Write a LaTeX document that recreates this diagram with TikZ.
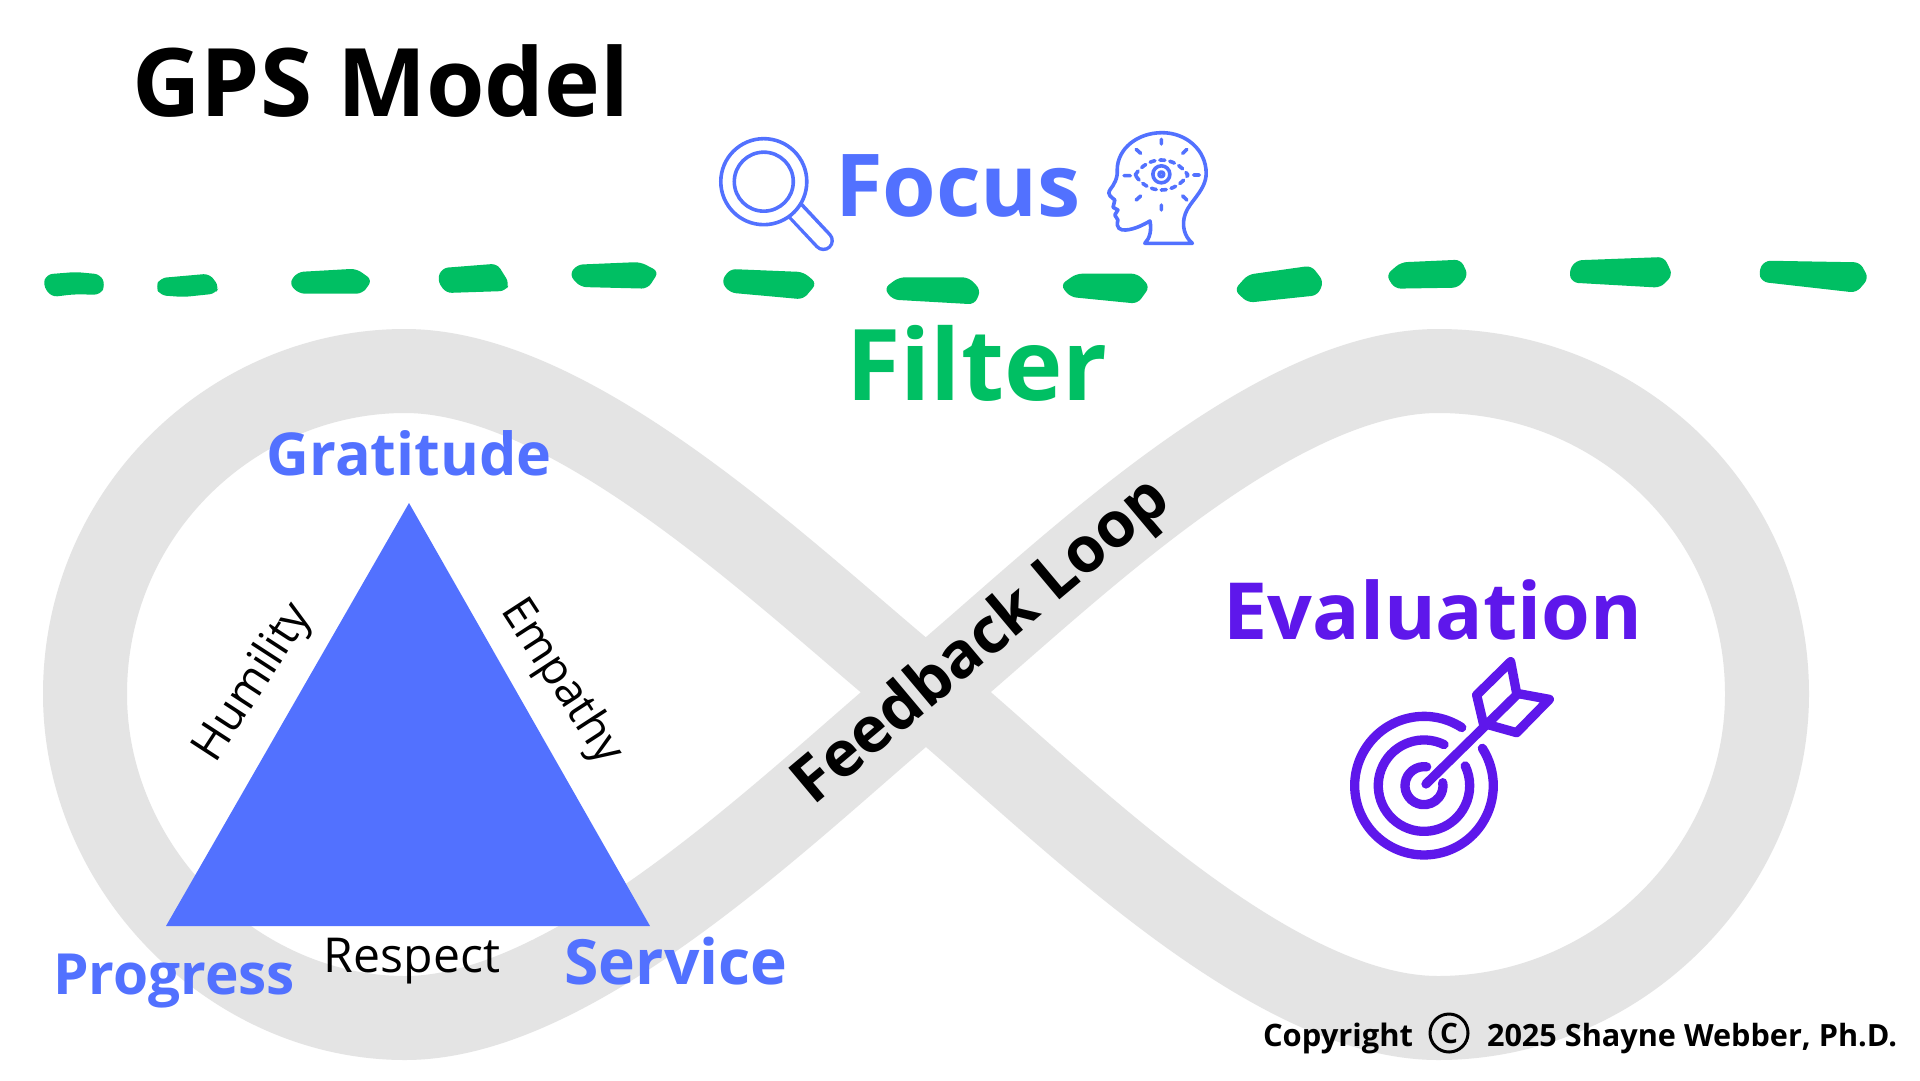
\documentclass[tikz,border=0pt]{standalone}
\usepackage{fontspec}
\usepackage{graphicx}
\setmainfont{Open Sans}
\definecolor{bluec}{HTML}{5271FF}
\definecolor{purplec}{HTML}{5E17EB}
\definecolor{greenc}{HTML}{00BF63}
\definecolor{greyc}{HTML}{E4E4E4}
\newcommand{\wtxt}[3]{\resizebox{#1pt}{!}{\fontsize{#2}{#2}\selectfont #3}}
\tikzset{
  lab/.style={inner sep=0pt,outer sep=0pt,anchor=base},
  rlab/.style={inner sep=0pt,outer sep=0pt,anchor=center},
  dashblob/.style={fill=greenc,rounded corners=6pt},
  iconb/.style={draw=bluec,line width=3.6pt,line cap=round,line join=round},
  icont/.style={draw=purplec,line width=9.3pt,line cap=round,line join=round}
}
\begin{document}
\begin{tikzpicture}[x=1pt,y=-1pt]
\useasboundingbox (0,0) rectangle (1920,1080);
\fill[white] (0,0) rectangle (1920,1080);
% infinity band
\draw[greyc,line width=84pt,line join=round]
 (85,694) .. controls (85,510) and (235,371) .. (405,371)
 .. controls (580,371) and (800,590) .. (926,692)
 .. controls (1052,796) and (1265,1018) .. (1438,1018)
 .. controls (1618,1018) and (1767,870) .. (1767,694)
 .. controls (1767,510) and (1618,371) .. (1438,371)
 .. controls (1265,371) and (1052,588) .. (926,692)
 .. controls (800,796) and (580,1018) .. (405,1018)
 .. controls (235,1018) and (85,870) .. (85,694) -- cycle;
% triangle
\fill[bluec] (409,503) -- (650,926) -- (166,926) -- cycle;
% green dashes
\begin{scope}[shift={(0,240)},x=1.2245pt,y=-0.3333pt]
\fill[dashblob] (38,103)--(62,96)--(82,103)--(86,135)--(82,164)--(60,163)--(42,171)--(35,135)--cycle;
\fill[dashblob] (131,114)--(171,101)--(179,140)--(176,161)--(150,171)--(131,166)--(127,140)--cycle;
\fill[dashblob] (243,96)--(291,86)--(304,120)--(296,161)--(244,161)--(236,130)--cycle;
\fill[dashblob] (361,84)--(406,71)--(416,130)--(413,153)--(364,159)--(357,120)--cycle;
\fill[dashblob] (471,74)--(523,66)--(538,95)--(529,146)--(474,141)--(465,105)--cycle;
\fill[dashblob] (596,87)--(656,96)--(667,130)--(656,178)--(596,158)--(589,125)--cycle;
\fill[dashblob] (734,112)--(791,112)--(801,150)--(796,193)--(729,179)--(722,145)--cycle;
\fill[dashblob] (879,101)--(929,101)--(939,140)--(929,191)--(874,171)--(866,135)--cycle;
\fill[dashblob] (1019,104)--(1071,77)--(1081,125)--(1076,166)--(1019,188)--(1008,150)--cycle;
\fill[dashblob] (1144,67)--(1193,59)--(1199,105)--(1191,143)--(1139,146)--(1132,105)--cycle;
\fill[dashblob] (1287,61)--(1359,51)--(1366,105)--(1356,143)--(1284,128)--(1281,95)--cycle;
\fill[dashblob] (1441,62)--(1519,67)--(1526,115)--(1516,158)--(1439,126)--(1436,95)--cycle;
\end{scope}
% magnifier and head
\begin{scope}[shift={(700,110)},x=0.3448pt,y=-0.3333pt]
\draw[bluec,line width=21pt,line cap=round] (275,300) -- (358,392);
\draw[white,line width=14pt,line cap=round] (265,290) -- (358,392);
\draw[iconb,fill=white] (185,215) circle[radius=43pt];
\draw[iconb] (185,215) circle[radius=29.5pt];
\draw[iconb] (1290,400) -- (1428,400)
 .. controls (1405,380) and (1395,345) .. (1408,310)
 .. controls (1420,275) and (1468,240) .. (1468,190)
 .. controls (1468,120) and (1410,68) .. (1340,68)
 .. controls (1270,68) and (1210,115) .. (1210,180)
 .. controls (1212,205) and (1200,225) .. (1190,238)
 .. controls (1178,255) and (1195,262) .. (1203,270)
 -- (1198,292) -- (1212,300) -- (1203,315) -- (1212,330)
 .. controls (1205,355) and (1220,362) .. (1235,360)
 .. controls (1260,358) and (1285,345) .. (1305,333)
 .. controls (1310,360) and (1305,385) .. (1290,400);
\draw[iconb,dash pattern=on 5pt off 5pt] (1262,195) .. controls (1300,135) and (1375,135) .. (1415,195)
  .. controls (1375,255) and (1300,255) .. (1262,195);
\draw[iconb] (1338,193) circle[radius=8.5pt];
\draw[iconb] (1338,193) circle[radius=2.4pt];
\draw[iconb] (1338,88)--(1338,102) (1338,285)--(1338,300) (1230,197)--(1248,197) (1432,195)--(1448,195)
  (1265,118)--(1278,130) (1400,130)--(1412,118) (1265,270)--(1278,258) (1400,258)--(1412,270);
\end{scope}
% target
\begin{scope}[shift={(1320,640)},x=0.3333pt,y=-0.3333pt]
\draw[icont] ([shift={(57:69.3pt)}]312,437) arc[start angle=57,end angle=392.6,radius=69.3pt];
\draw[icont] ([shift={(64:45.7pt)}]312,437) arc[start angle=64,end angle=385.6,radius=45.7pt];
\draw[icont] ([shift={(82:19pt)}]312,437) arc[start angle=82,end angle=369,radius=19pt];
\draw[icont] (318,432) -- (590,165);
\draw[icont] (490,250) -- (470,165) -- (572,65) -- (590,160) -- (688,178) -- (590,278) -- cycle;
\end{scope}
% labels
\node[lab,text=black] (title) at (381,116) {\wtxt{497}{100}{\bfseries GPS Model}};
\node[lab,text=bluec] (focus) at (958,216) {\wtxt{246}{90}{\bfseries Focus}};
\node[lab,text=greenc] (filter) at (977,400) {\wtxt{261}{103}{\bfseries Filter}};
\node[lab,text=bluec] (grat) at (409,475) {\wtxt{285}{62}{\bfseries Gratitude}};
\node[lab,text=bluec] (prog) at (174,994) {\wtxt{242}{62}{\bfseries Progress}};
\node[lab,text=bluec] (serv) at (676,984) {\wtxt{223}{62}{\bfseries Service}};
\node[lab,text=black] (resp) at (412,972) {\wtxt{176}{46}{Respect}};
\node[lab,text=purplec] (eval) at (1433,639) {\wtxt{419}{84}{\bfseries Evaluation}};
\node[rlab,text=black,rotate=40] (fb) at (983,643) {\wtxt{470}{60}{\bfseries Feedback Loop}};
\node[rlab,text=black,rotate=57] (hum) at (254,683) {\wtxt{178}{46}{Humility}};
\node[rlab,text=black,rotate=-57] (emp) at (561,682) {\wtxt{187}{46}{Empathy}};
\node[lab,text=black] (c1) at (1338,1046) {\wtxt{150}{31}{\bfseries Copyright}};
\node[lab,text=black] (c2) at (1692,1046) {\wtxt{410}{31}{\bfseries 2025 Shayne Webber, Ph.D.}};
\node[draw=black,line width=3pt,circle,minimum size=38pt,inner sep=0pt,text=black] (cs) at (1449,1033) {\fontsize{28}{28}\selectfont\bfseries C};
\end{tikzpicture}
\end{document}
